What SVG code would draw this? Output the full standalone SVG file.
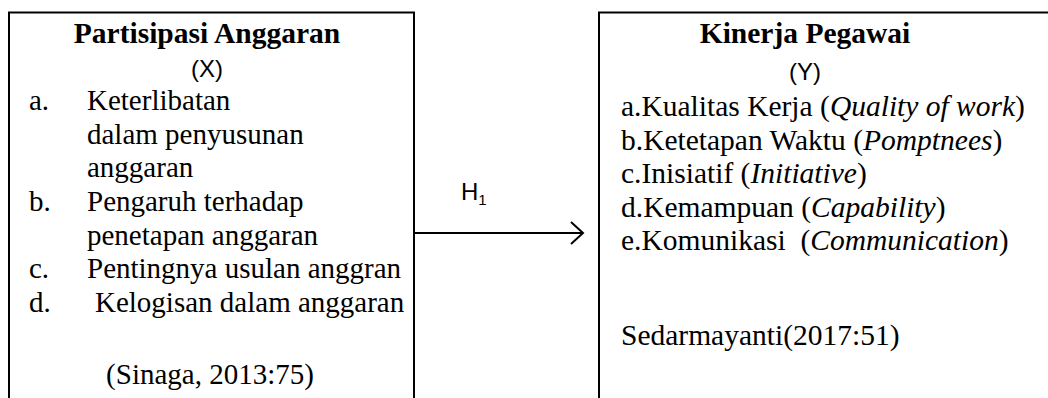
<svg xmlns="http://www.w3.org/2000/svg" width="1048" height="398" viewBox="0 0 1048 398">
  <defs>
    <style>
      .box { fill: none; stroke: #000; stroke-width: 2; }
      .t { font-family: "Liberation Serif", "Times New Roman", serif; font-size: 29px; fill: #000; }
      .r { font-size: 29.5px; }
      .b { font-weight: bold; font-size: 29.5px; }
      .i { font-style: italic; }
      .s { font-family: "Liberation Sans", Arial, sans-serif; font-size: 24px; fill: #000; }
      .conn { stroke: #000; stroke-width: 2; fill: none; }
    </style>
    <marker id="arr" markerWidth="16" markerHeight="26" refX="14" refY="13" orient="auto" markerUnits="userSpaceOnUse">
      <path d="M2,2 L14,13 L2,24" fill="none" stroke="#000" stroke-width="2"/>
    </marker>
  </defs>
  <rect width="1048" height="398" fill="#fff"/>

  <g id="node-x">
    <path class="box" d="M9,400 V12.5 H414 V400"/>
    <text class="t b" x="207" y="43" text-anchor="middle">Partisipasi Anggaran</text>
    <text class="s" x="207" y="77" text-anchor="middle">(X)</text>
    <text class="t" x="29" y="110">a.</text>
    <text class="t" x="87" y="110">Keterlibatan</text>
    <text class="t" x="87" y="144">dalam penyusunan</text>
    <text class="t" x="87" y="177">anggaran</text>
    <text class="t" x="29" y="211">b.</text>
    <text class="t" x="87" y="211">Pengaruh terhadap</text>
    <text class="t" x="87" y="245">penetapan anggaran</text>
    <text class="t" x="29" y="278">c.</text>
    <text class="t" x="87" y="278">Pentingnya usulan anggran</text>
    <text class="t" x="29" y="312">d.</text>
    <text class="t" x="95" y="312">Kelogisan dalam anggaran</text>
    <text class="t" x="210" y="384" text-anchor="middle">(Sinaga, 2013:75)</text>
  </g>

  <g id="node-y">
    <path class="box" d="M599,400 V12.5 H1050"/>
    <text class="t b" x="805" y="43" text-anchor="middle">Kinerja Pegawai</text>
    <text class="s" x="805" y="80" text-anchor="middle">(Y)</text>
    <text class="t r" x="621" y="116">a.Kualitas Kerja (<tspan class="i">Quality of work</tspan>)</text>
    <text class="t r" x="621" y="150">b.Ketetapan Waktu (<tspan class="i">Pomptnees</tspan>)</text>
    <text class="t r" x="621" y="183">c.Inisiatif (<tspan class="i">Initiative</tspan>)</text>
    <text class="t r" x="621" y="217">d.Kemampuan (<tspan class="i">Capability</tspan>)</text>
    <text class="t r" x="621" y="250" xml:space="preserve">e.Komunikasi  (<tspan class="i">Communication</tspan>)</text>
    <text class="t r" x="621" y="345">Sedarmayanti(2017:51)</text>
  </g>

  <g id="connectors">
    <line class="conn" x1="414" y1="233" x2="583" y2="233" marker-end="url(#arr)"/>
    <text class="s" x="461" y="200" font-size="22">H<tspan font-size="15" dy="5">1</tspan></text>
  </g>
</svg>
